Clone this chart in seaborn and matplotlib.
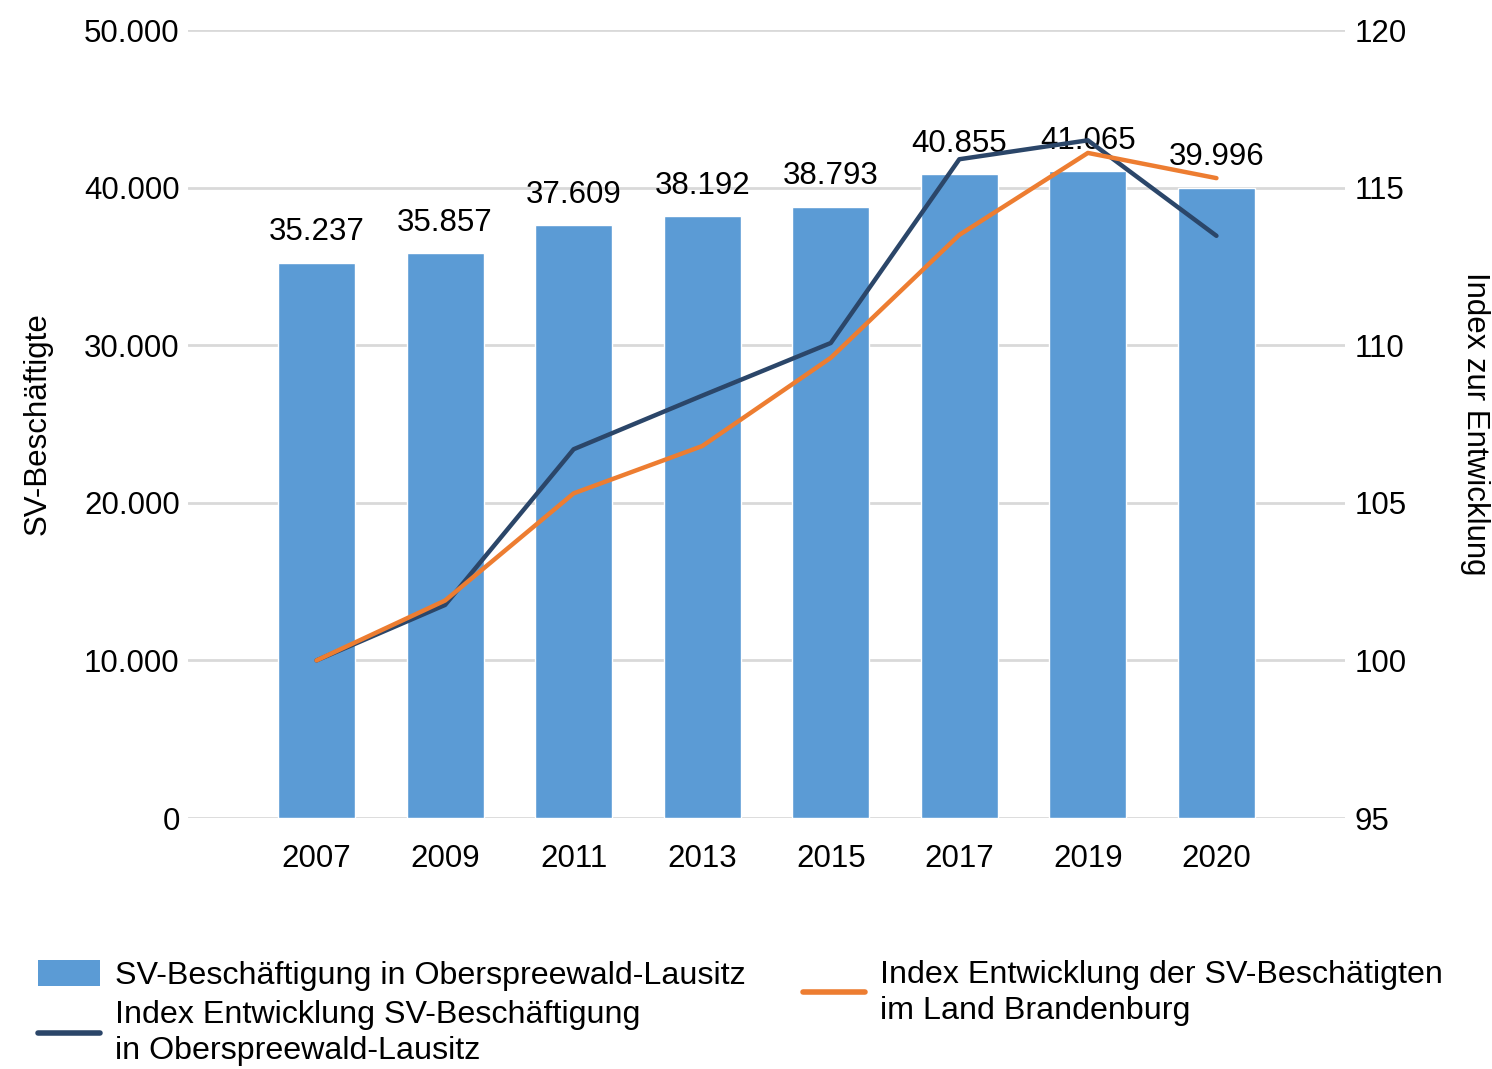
import matplotlib
matplotlib.use("Agg")
import matplotlib.pyplot as plt
import matplotlib.ticker as mticker
from matplotlib.patches import Patch
from matplotlib.lines import Line2D
import seaborn as sns

# Daten
jahre = ["2007", "2009", "2011", "2013", "2015", "2017", "2019", "2020"]
sv_beschaeftigte = [35237, 35857, 37609, 38192, 38793, 40855, 41065, 39996]
index_osl = [100.0, 101.76, 106.7, 108.4, 110.07, 115.9, 116.5, 113.47]
index_bb = [100.0, 101.9, 105.3, 106.8, 109.6, 113.5, 116.1, 115.3]

BLAU = "#5b9bd5"
DUNKEL = "#2b4669"
ORANGE = "#ed7d31"
GRID = "#d9d9d9"

sns.set_style("white")
plt.rcParams["font.family"] = ["Liberation Sans", "DejaVu Sans"]
plt.rcParams["text.color"] = "black"
FS = 22.5
FS_LEG = 23.2


def de_format(x, pos):
    return f"{int(x):,}".replace(",", ".")


fig = plt.figure(figsize=(14.92, 10.69), dpi=100)
ax = fig.add_axes([188 / 1492, 1 - 818 / 1069, 1157 / 1492, 788 / 1069])

sns.barplot(x=jahre, y=sv_beschaeftigte, color=BLAU, saturation=1,
            width=0.6, ax=ax, zorder=2)
ax.bar_label(ax.containers[0], labels=[de_format(v, None) for v in sv_beschaeftigte],
             padding=11, fontsize=FS, color="black")

ax.set_xlim(-1, 8)
ax.set_ylim(0, 50000)
ax.set_yticks(range(0, 50001, 10000))
ax.yaxis.set_major_formatter(mticker.FuncFormatter(de_format))
ax.set_axisbelow(True)
ax.grid(axis="y", color=GRID, linewidth=2)
ax.set_xlabel("")
ax.set_ylabel("")
ax.tick_params(axis="y", length=0, pad=6, labelsize=FS, colors="black")
ax.tick_params(axis="x", length=0, pad=19, labelsize=FS, colors="black")
for s in ax.spines.values():
    s.set_visible(False)

# Indexlinien auf zweiter Achse
ax2 = ax.twinx()
sns.lineplot(x=jahre, y=index_osl, color=DUNKEL, linewidth=3.2, ax=ax2)
sns.lineplot(x=jahre, y=index_bb, color=ORANGE, linewidth=3.2, ax=ax2)
ax2.set_ylim(95, 120)
ax2.set_yticks(range(95, 121, 5))
ax2.grid(False)
ax2.set_ylabel("")
ax2.tick_params(axis="y", length=0, pad=7, labelsize=FS, colors="black")
for s in ax2.spines.values():
    s.set_visible(False)
ax2.set_xlim(-1, 8)

fig.text(38 / 1492, 1 - 424 / 1069, "SV-Beschäftigte", rotation=90,
         ha="center", va="center", fontsize=FS)
fig.text(1475 / 1492, 1 - 424 / 1069, "Index zur Entwicklung", rotation=270,
         ha="center", va="center", fontsize=FS)

# Legende (zwei Spalten getrennt platziert)
leg_opts = dict(loc="upper left", frameon=False, fontsize=FS_LEG,
                borderaxespad=0, borderpad=0, handlelength=1.93,
                handleheight=0.85, handletextpad=0.47, labelspacing=0.28)

leg1 = fig.legend(
    [Patch(facecolor=BLAU, edgecolor="none"),
     Line2D([0], [0], color=DUNKEL, linewidth=4)],
    ["SV-Beschäftigung in Oberspreewald-Lausitz",
     "Index Entwicklung SV-Beschäftigung\nin Oberspreewald-Lausitz"],
    bbox_to_anchor=(38 / 1492, 1 - 960 / 1069), **leg_opts)
leg2 = fig.legend(
    [Line2D([0], [0], color=ORANGE, linewidth=4)],
    ["Index Entwicklung der SV-Beschätigten\nim Land Brandenburg"],
    bbox_to_anchor=(803 / 1492, 1 - 960 / 1069), **leg_opts)
for leg in (leg1, leg2):
    for t in leg.get_texts():
        t.set_linespacing(1.26)
        t.set_color("black")

fig.savefig("out.png", dpi=100)
